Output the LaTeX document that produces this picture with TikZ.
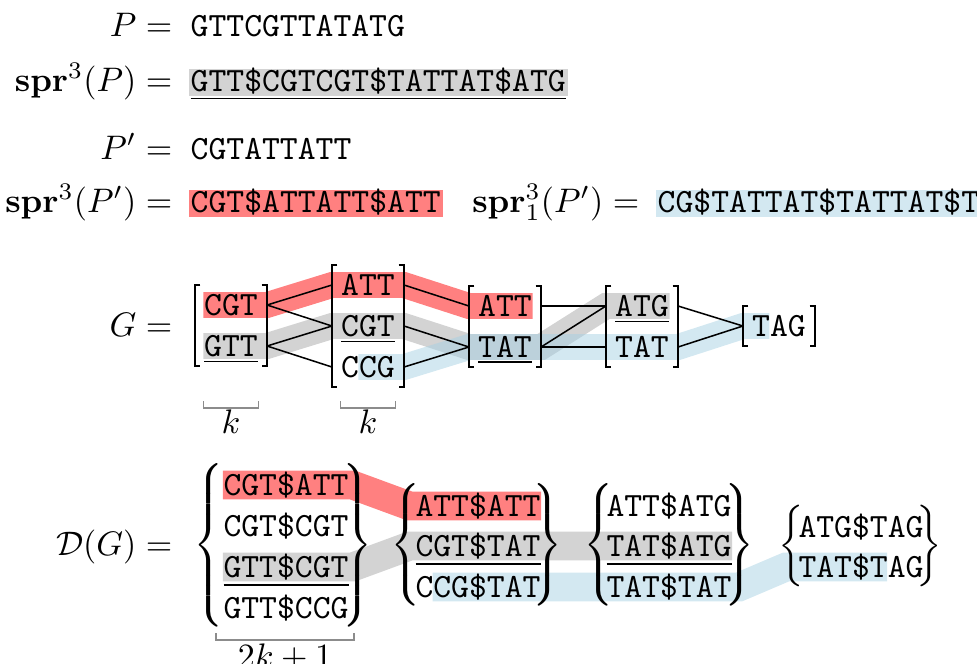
\documentclass[tikz,border=0pt]{standalone}
\usetikzlibrary{backgrounds}
\definecolor{hlred}{RGB}{255,128,128}
\definecolor{hlgray}{RGB}{211,211,211}
\definecolor{hlblue}{RGB}{211,232,241}
\definecolor{hlbluebase}{RGB}{167,209,227}
\delimiterfactor=1000
\delimitershortfall=0pt
\nulldelimiterspace=0pt
\newcommand\openbr[1]{$\left\{\vcenter to #1{\vfil}\right.$}
\newcommand\closebr[1]{$\left.\vcenter to #1{\vfil}\right\}$}
\begin{document}
\begin{tikzpicture}[
  x=0.294pt, y=-0.294pt,
  lab/.style={anchor=base east, inner sep=0pt},
  seq/.style={font=\ttfamily, anchor=base west, inner xsep=0.6pt, inner ysep=0pt,
    text height=6.6pt, text depth=1.6pt},
  kmer/.style={font=\ttfamily, inner sep=0pt, minimum width=20.8pt,
    text height=6.1pt, text depth=0pt},
  dmer/.style={font=\ttfamily, inner sep=0pt, text height=6.1pt, text depth=0pt},
  brace/.style={inner sep=0pt},
  edge/.style={line width=0.45pt},
  brk/.style={line width=0.6pt},
  dim/.style={draw=black!45, line width=0.5pt},
  hl/.style={line width=7.6pt},
  dhl/.style={line width=8.5pt}]
  \useasboundingbox (0,0) rectangle (977,663);

  % the two sequences and their spread strings
  \node[lab] (pl) at (173,36) {$P =$};
  \node[seq, inner xsep=0pt] (p) at (190,36) {GTTCGTTATATG};
  \node[lab] (sprpl) at (173,91) {$\mathbf{spr}^3(P) =$};
  \node[seq, fill=hlgray] (sprp) at (188,91) {\underline{GTT\$CGTCGT\$TATTAT\$ATG}};
  \node[lab] (ql) at (173,159) {$P' =$};
  \node[seq, inner xsep=0pt] (q) at (190,159) {CGTATTATT};
  \node[lab] (sprql) at (173,212) {$\mathbf{spr}^3(P') =$};
  \node[seq, fill=hlred] (sprq) at (188,212) {CGT\$ATTATT\$ATT};
  \node[lab] (sprqol) at (640,212) {$\mathbf{spr}^3_1(P') =$};
  \node[seq, fill=hlblue] (sprqo) at (655,212) {CG\$TATTAT\$TATTAT\$T};

  % the graph G
  \node[lab] (gl) at (173,336) {$G =$};
  \node[kmer] (g1a) at (231,305) {CGT};
  \node[kmer] (g1b) at (231,346) {\underline{GTT}};
  \node[kmer] (g2a) at (368,285) {ATT};
  \node[kmer] (g2b) at (368,326) {\underline{CGT}};
  \node[kmer] (g2c) at (368,367) {CCG};
  \node[kmer] (g3a) at (505,306) {ATT};
  \node[kmer] (g3b) at (505,347) {\underline{TAT}};
  \node[kmer] (g4a) at (642,306) {\underline{ATG}};
  \node[kmer] (g4b) at (642,347) {TAT};
  \node[kmer] (g5) at (779,326) {TAG};

  \foreach \top/\bot in {g1a/g1b, g2a/g2c, g3a/g3b, g4a/g4b, g5/g5} {
    \draw[brk] ([shift={(1.6pt,5.9pt)}]\top.west) -| ([yshift=-5.9pt]\bot.west) -- ++(1.6pt,0);
    \draw[brk] ([shift={(-1.6pt,5.9pt)}]\top.east) -| ([yshift=-5.9pt]\bot.east) -- ++(-1.6pt,0);
  }
  \foreach \a/\b in {g1a/g2a, g1a/g2b, g1b/g2b, g1b/g2c, g2a/g3a, g2b/g3b, g2c/g3b,
      g3a/g4a, g3b/g4a, g3b/g4b, g4a/g5, g4b/g5}
    \draw[edge] (\a.east) -- (\b.west);

  % k under the first two columns
  \draw[dim] (203.5,401) |- (258.5,408) -- ++(0,-7);
  \node[anchor=base] (k1) at (231,433) {$k$};
  \draw[dim] (340.5,401) |- (395.5,408) -- ++(0,-7);
  \node[anchor=base] (k2) at (368,433) {$k$};

  % the set D(G)
  \node[lab] (dl) at (173,555) {$\mathcal{D}(G) =$};
  \node[dmer] (d1a) at (286,485) {CGT\$ATT};
  \node[dmer] (d1b) at (286,526) {CGT\$CGT};
  \node[dmer] (d1c) at (286,567) {\underline{GTT\$CGT}};
  \node[dmer] (d1d) at (286,608) {GTT\$CCG};
  \node[dmer] (d2a) at (478,506) {ATT\$ATT};
  \node[dmer] (d2b) at (478,546) {\underline{CGT\$TAT}};
  \node[dmer] (d2c) at (478,587) {CCG\$TAT};
  \node[dmer] (d3a) at (669,506) {ATT\$ATG};
  \node[dmer] (d3b) at (669,546) {\underline{TAT\$ATG}};
  \node[dmer] (d3c) at (669,587) {TAT\$TAT};
  \node[dmer] (d4a) at (861,527) {ATG\$TAG};
  \node[dmer] (d4b) at (861,567) {TAT\$TAG};

  \node[brace, anchor=west] (b1l) at (193,545) {\openbr{48pt}};
  \node[brace, anchor=east] (b1r) at (373,545) {\closebr{48pt}};
  \node[brace, anchor=west] (b2l) at (390,545) {\openbr{36pt}};
  \node[brace, anchor=east] (b2r) at (563,545) {\closebr{36pt}};
  \node[brace, anchor=west] (b3l) at (583,545) {\openbr{36pt}};
  \node[brace, anchor=east] (b3r) at (755,545) {\closebr{36pt}};
  \node[brace, anchor=west] (b4l) at (778,546) {\openbr{23.5pt}};
  \node[brace, anchor=east] (b4r) at (943,546) {\closebr{23.5pt}};

  \draw[dim] (216,633) |- (354,640) -- ++(0,-7);
  \node[anchor=base] (kk) at (285,667) {$2k+1$};

  % highlighted paths
  \begin{scope}[on background layer]
    \draw[hl, hlred] ([xshift=2.5pt]g1a.west) -- (g1a.east) -- (g2a.west) -- (g2a.east)
      -- (g3a.west) -- ([xshift=-2.5pt]g3a.east);
    \draw[hl, hlgray] ([xshift=2.5pt]g1b.west) -- (g1b.east) -- (g2b.west) -- (g2b.east)
      -- (g3b.west) -- (g3b.east) -- (g4a.west) -- ([xshift=-2.5pt]g4a.east);
    \draw[hl, hlbluebase, draw opacity=0.5] ([xshift=7.75pt]g2c.west) -- (g2c.east)
      -- (g3b.west) -- (g3b.east) -- (g4b.west) -- (g4b.east) -- (g5.west)
      -- ([xshift=7.75pt]g5.west);
    \draw[dhl, hlred] (d1a.west) -- ([xshift=1pt]d1a.east) -- ([xshift=-1.5pt]d2a.west)
      -- (d2a.east);
    \draw[dhl, hlgray] (d1c.west) -- ([xshift=1pt]d1c.east) -- ([xshift=-1.5pt]d2b.west)
      -- (d3b.east);
    \draw[dhl, hlbluebase, draw opacity=0.5] ([xshift=5.25pt]d2c.west) -- ([xshift=2pt]d3c.east)
      -- ([xshift=-3.5pt]d4b.west) -- ([xshift=26.25pt]d4b.west);
  \end{scope}
\end{tikzpicture}
\end{document}
